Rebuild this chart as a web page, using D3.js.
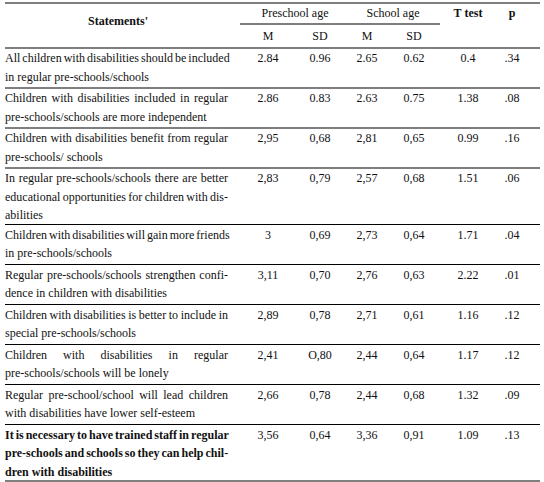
<!DOCTYPE html>
<html><head><meta charset="utf-8">
<script src="https://cdn.jsdelivr.net/npm/d3@7"></script>
<style>body{margin:0;background:#fff}text{font-family:'Liberation Serif',Tinos,serif;font-size:12px;fill:#111}</style>
</head><body><svg id="t" width="544" height="482" font-family="Liberation Serif, serif"></svg>
<script>
// -------------------
// Data
// -------------------
const statements = [
  ["All children with disabilities should be included", "in regular pre-schools/schools"],
  ["Children with disabilities included in regular", "pre-schools/schools are more independent"],
  ["Children with disabilities benefit from regular", "pre-schools/ schools"],
  ["In regular pre-schools/schools there are better", "educational opportunities for children with dis-", "abilities"],
  ["Children with disabilities will gain more friends", "in pre-schools/schools"],
  ["Regular pre-schools/schools strengthen confi-", "dence in children with disabilities"],
  ["Children with disabilities is better to include in", "special pre-schools/schools"],
  ["Children with disabilities in regular", "pre-schools/schools will be lonely"],
  ["Regular pre-school/school will lead children", "with disabilities have lower self-esteem"],
  ["It is necessary to have trained staff in regular", "pre-schools and schools so they can help chil-", "dren with disabilities"]
];
const preM   = ["2.84", "2.86", "2,95", "2,83", "3", "3,11", "2,89", "2,41", "2,66", "3,56"];
const preSD  = ["0.96", "0.83", "0,68", "0,79", "0,69", "0,70", "0,78", "O,80", "0,78", "0,64"];
const schM   = ["2.65", "2.63", "2,81", "2,57", "2,73", "2,76", "2,71", "2,44", "2,44", "3,36"];
const schSD  = ["0.62", "0.75", "0,65", "0,68", "0,64", "0,63", "0,61", "0,64", "0,68", "0,91"];
const tTest  = ["0.4", "1.38", "0.99", "1.51", "1.71", "2.22", "1.16", "1.17", "1.32", "1.09"];
const pVals  = [".34", ".08", ".16", ".06", ".04", ".01", ".12", ".12", ".09", ".13"];
const boldRows = [9];

const svg = d3.select("#t");
const left = 5, right = 540, textRight = 228;
const colX = [268, 320, 367, 414, 468, 512];
const headTop = 3, headBottom = 48;
const lineGap = 18.5;

// row heights depend on number of text lines
const heights = statements.map(s => s.length === 3 ? 56.5 : 40);
const tops = [];
heights.reduce((acc, h) => { tops.push(acc); return acc + h; }, headBottom);

function hline(y, x1, x2) {
    svg.append("line").attr("x1", x1).attr("x2", x2).attr("y1", y).attr("y2", y)
        .attr("stroke", "#000").attr("stroke-width", 1.2);
}

// -------------------
// Header
// -------------------
hline(headTop, left, right);
hline(headBottom, left, right);
hline(24, 240, 440);
const head = [
    {t: "Statements'", x: 118, y: 25, b: true},
    {t: "Preschool age", x: 295, y: 17},
    {t: "School age", x: 393, y: 17},
    {t: "T test", x: 468, y: 17, b: true},
    {t: "p", x: 512, y: 17, b: true},
    {t: "M", x: colX[0], y: 40}, {t: "SD", x: colX[1], y: 40},
    {t: "M", x: colX[2], y: 40}, {t: "SD", x: colX[3], y: 40}
];
svg.selectAll("text.head").data(head).enter().append("text")
    .attr("class", "head")
    .attr("x", d => d.x).attr("y", d => d.y)
    .attr("text-anchor", "middle")
    .style("font-weight", d => d.b ? "bold" : null)
    .text(d => d.t);

// -------------------
// Body rows
// -------------------
statements.forEach((lines, i) => {
    const top = tops[i];
    const bold = boldRows.includes(i);
    lines.forEach((ln, j) => {
        const y = top + 14 + j * lineGap;
        const words = ln.split(" ");
        const g = svg.append("g");
        const nodes = words.map(w => g.append("text").attr("y", y)
            .style("font-weight", bold ? "bold" : null).text(w));
        const widths = nodes.map(n => n.node().getComputedTextLength());
        const total = d3.sum(widths);
        const last = j === lines.length - 1;
        let gap = (!last && words.length > 1) ? (textRight - left - total) / (words.length - 1) : 3;
        gap = Math.max(gap, 2);
        let x = left;
        nodes.forEach((n, k) => { n.attr("x", x); x += widths[k] + gap; });
    });
    const vals = [preM[i], preSD[i], schM[i], schSD[i], tTest[i], pVals[i]];
    vals.forEach((v, k) => {
        svg.append("text").attr("x", colX[k]).attr("y", top + 14)
            .attr("text-anchor", "middle").text(v);
    });
    hline(top + heights[i], left, right);
});
</script></body></html>
